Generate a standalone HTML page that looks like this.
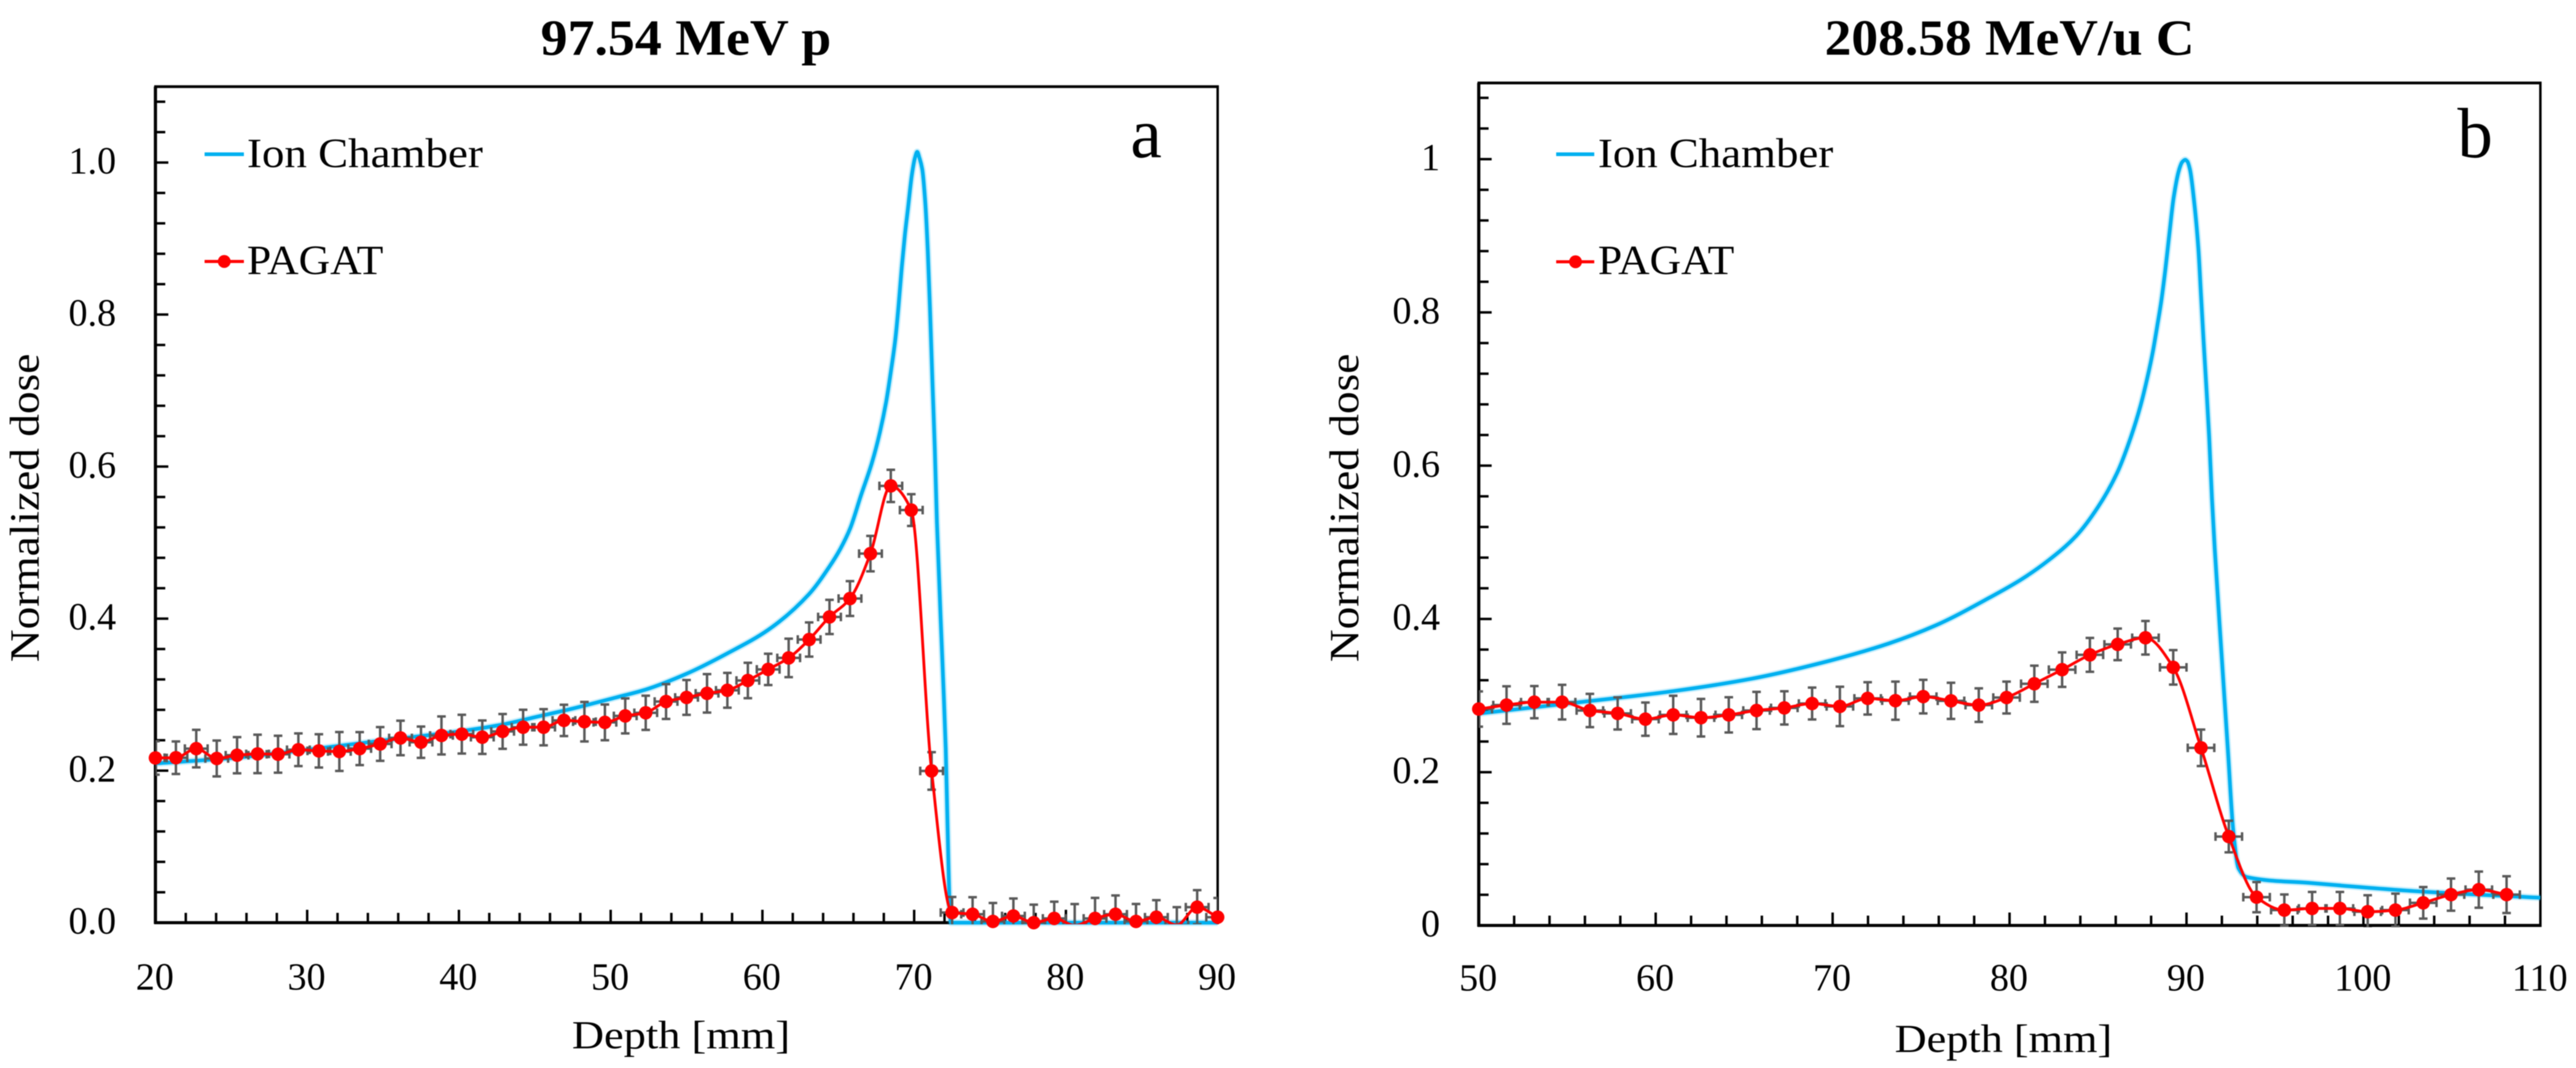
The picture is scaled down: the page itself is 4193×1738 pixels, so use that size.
<!DOCTYPE html>
<html lang="en">
<head>
<meta charset="utf-8">
<title>Normalized dose vs depth</title>
<style>
html,body{margin:0;padding:0;background:#fff;}
svg{display:block;filter:blur(0.7px);}
text{font-family:"Liberation Serif",serif;fill:#000;}
</style>
</head>
<body>
<svg id="figure" xmlns="http://www.w3.org/2000/svg" width="4193" height="1738" viewBox="0 0 4193 1738">
  <rect x="0" y="0" width="4193" height="1738" fill="#fff"/>
  <defs>
    <clipPath id="clip-a"><rect x="253" y="141" width="1729" height="1363"/></clipPath>
    <clipPath id="clip-b"><rect x="2407" y="135" width="1728" height="1374"/></clipPath>
  </defs>
  <g id="panel-a">
    <text x="880" y="89" font-size="83" font-weight="bold" textLength="473" lengthAdjust="spacingAndGlyphs">97.54 MeV p</text>
    <text x="931" y="1706" font-size="65" textLength="355" lengthAdjust="spacingAndGlyphs">Depth [mm]</text>
    <text transform="translate(63,1077.5) rotate(-90)" font-size="68" textLength="502" lengthAdjust="spacingAndGlyphs">Normalized dose</text>
    <text x="1840" y="256" font-size="115">a</text>
    <g id="plot-a"></g>
    <g>
      <line x1="333" y1="251" x2="397" y2="251" stroke="#00b0f0" stroke-width="6"/>
      <text x="402" y="272" font-size="68" textLength="384" lengthAdjust="spacingAndGlyphs">Ion Chamber</text>
      <line x1="333" y1="425.5" x2="397" y2="425.5" stroke="#f00" stroke-width="5"/>
      <circle cx="365" cy="425.5" r="10.5" fill="#f00"/>
      <text x="402" y="446" font-size="68" textLength="222" lengthAdjust="spacingAndGlyphs">PAGAT</text>
    </g>
  </g>
  <g id="panel-b">
    <text x="2970" y="89" font-size="83" font-weight="bold" textLength="602" lengthAdjust="spacingAndGlyphs">208.58 MeV/u C</text>
    <text x="3084" y="1712" font-size="65" textLength="354" lengthAdjust="spacingAndGlyphs">Depth [mm]</text>
    <text transform="translate(2211,1077.5) rotate(-90)" font-size="68" textLength="502" lengthAdjust="spacingAndGlyphs">Normalized dose</text>
    <text x="4000" y="256" font-size="115">b</text>
    <g id="plot-b"></g>
    <g>
      <line x1="2533" y1="251" x2="2595" y2="251" stroke="#00b0f0" stroke-width="6"/>
      <text x="2601" y="272" font-size="68" textLength="383" lengthAdjust="spacingAndGlyphs">Ion Chamber</text>
      <line x1="2533" y1="426" x2="2595" y2="426" stroke="#f00" stroke-width="5"/>
      <circle cx="2564.5" cy="426" r="10.5" fill="#f00"/>
      <text x="2601" y="446" font-size="68" textLength="222" lengthAdjust="spacingAndGlyphs">PAGAT</text>
    </g>
  </g>
</svg>
<script>
// ---- Panel a data ----
const xTicksA = [20,30,40,50,60,70,80,90];
const yTicksA = [0,0.2,0.4,0.6,0.8,1.0];
const yLabelsA = ["0.0","0.2","0.4","0.6","0.8","1.0"];
const ionDepthA = [20,25,30,35,40,42.84,45,47.5,50.3,52.28,54.98,57.68,60.38,63.08,64.43,65.1,65.78,66.5,67.22,67.74,68.15,68.46,68.76,68.97,69.18,69.39,69.6,69.85,70.05,70.2,70.35,70.53,70.73,70.9,71.05,71.2,71.36,71.5,71.9,72.08,72.2,72.36,72.42,90];
const ionDoseA = [0.2095,0.2165,0.2275,0.2397,0.2516,0.2605,0.2703,0.2817,0.296,0.3065,0.3273,0.3542,0.3852,0.4324,0.4688,0.4905,0.5186,0.5625,0.6053,0.645,0.6847,0.7244,0.7677,0.811,0.8616,0.905,0.941,0.984,1.006,1.014,1.006,0.9915,0.948,0.883,0.804,0.7136,0.6237,0.5267,0.3246,0.2292,0.1273,0.012,0,0];
const pagatDepthA = [20,21.35,22.69,24.04,25.38,26.73,28.08,29.42,30.77,32.12,33.46,34.81,36.15,37.5,38.85,40.19,41.54,42.88,44.23,45.58,46.92,48.27,49.62,50.96,52.31,53.65,55,56.35,57.69,59.04,60.38,61.73,63.08,64.42,65.77,67.12,68.46,69.81,71.15,72.5,73.85,75.19,76.54,77.88,79.23,80.58,81.92,83.27,84.62,85.96,87.31,88.65,90];
const pagatDoseA = [0.2167,0.217,0.229,0.216,0.2203,0.222,0.2216,0.2275,0.226,0.2252,0.229,0.2351,0.243,0.2374,0.2463,0.248,0.244,0.2516,0.2571,0.2571,0.2661,0.2644,0.2635,0.272,0.2761,0.2909,0.2963,0.3017,0.3057,0.3186,0.3332,0.3483,0.3725,0.4022,0.4264,0.4855,0.5746,0.5428,0.1996,0.0133,0.0111,0.0016,0.0088,0,0.0056,-0.0035,0.0056,0.0111,0.0016,0.0072,-0.003,0.0204,0.0072];
const pagatErrA = [0.022,0.0214,0.0247,0.0236,0.0238,0.0253,0.0243,0.0215,0.0219,0.0256,0.0217,0.0222,0.0227,0.0206,0.025,0.0255,0.022,0.0229,0.023,0.0238,0.0206,0.026,0.0235,0.023,0.0225,0.0229,0.0229,0.0253,0.0229,0.0233,0.0206,0.0253,0.0225,0.0225,0.0229,0.0233,0.0212,0.0209,0.0247,0.0205,0.0224,0.0243,0.023,0.0237,0.022,0.028,0.027,0.0247,0.023,0.0224,0.0234,0.0224,0.0253];
const xErrA = [0.75];

// ---- Panel b data ----
const xTicksB = [50,60,70,80,90,100,110];
const yTicksB = [0,0.2,0.4,0.6,0.8,1];
const yLabelsB = ["0","0.2","0.4","0.6","0.8","1"];
const ionDepthB = [50,55.47,61,65.43,69.86,73.18,75.8,78.9,80.66,82.2,83.77,85,86.09,86.87,87.41,87.8,88.1,88.34,88.57,88.8,89.04,89.27,89.58,89.75,89.93,90.05,90.2,90.43,90.67,90.82,90.97,91.13,91.28,91.44,91.6,91.97,92.34,92.65,92.94,93.42,97.05,103.1,110];
const ionDoseB = [0.2766,0.2907,0.3058,0.322,0.3456,0.368,0.3913,0.4282,0.4515,0.4765,0.5085,0.5461,0.5911,0.6383,0.679,0.716,0.749,0.7814,0.8141,0.855,0.9041,0.9492,0.986,0.996,0.9992,0.997,0.986,0.945,0.8837,0.8223,0.761,0.6995,0.638,0.5566,0.49,0.3577,0.2288,0.1219,0.0746,0.063,0.0553,0.0445,0.0361];
const pagatDepthB = [50,51.57,53.14,54.71,56.28,57.85,59.42,60.99,62.56,64.13,65.7,67.27,68.84,70.41,71.98,73.55,75.12,76.69,78.26,79.83,81.4,82.97,84.54,86.11,87.68,89.25,90.82,92.39,93.96,95.53,97.1,98.67,100.24,101.81,103.38,104.95,106.52,108.09];
const pagatDoseB = [0.2824,0.2876,0.2914,0.2914,0.2805,0.2767,0.2692,0.2748,0.2711,0.2748,0.2805,0.2839,0.2896,0.2858,0.2963,0.2933,0.2986,0.2931,0.2875,0.2974,0.3154,0.3338,0.3531,0.3668,0.3754,0.3368,0.2318,0.116,0.0369,0.02,0.0222,0.0222,0.0179,0.02,0.0295,0.0402,0.0467,0.0402];
const pagatErrB = [0.023,0.0245,0.021,0.0226,0.0217,0.021,0.0217,0.0249,0.0245,0.023,0.0243,0.0217,0.0208,0.0257,0.0211,0.0249,0.0219,0.0236,0.0219,0.0208,0.0236,0.0225,0.0221,0.0206,0.0219,0.0225,0.0238,0.0206,0.0197,0.0204,0.0215,0.0215,0.0215,0.0215,0.0206,0.021,0.0236,0.024];
const xErrB = [0.75];

const SVGNS = "http://www.w3.org/2000/svg";

function make(parent, tag, props) {
  const el = document.createElementNS(SVGNS, tag);
  for (const k in props) el.setAttribute(k, props[k]);
  parent.appendChild(el);
  return el;
}

function addLine(parent, x1, y1, x2, y2, color, width, name) {
  const el = make(parent, "line", {x1: x1, y1: y1, x2: x2, y2: y2, stroke: color, "stroke-width": width});
  
  
  return el;
}

// Monotone cubic through the points: smooth, with no overshoot past a data value.
function smoothPath(pts) {
  const n = pts.length;
  const h = [];
  const s = [];
  for (let i = 0; i < n - 1; i++) {
    h.push(pts[i + 1][0] - pts[i][0]);
    s.push((pts[i + 1][1] - pts[i][1]) / h[i]);
  }
  const m = new Array(n);
  m[0] = s[0];
  m[n - 1] = s[n - 2];
  for (let i = 1; i < n - 1; i++) {
    if (s[i - 1] * s[i] <= 0) {
      m[i] = 0;
    } else {
      const w1 = 2 * h[i] + h[i - 1];
      const w2 = h[i] + 2 * h[i - 1];
      m[i] = (w1 + w2) / (w1 / s[i - 1] + w2 / s[i]);
    }
  }
  let d = "M" + pts[0][0].toFixed(2) + " " + pts[0][1].toFixed(2);
  for (let i = 0; i < n - 1; i++) {
    const c1x = pts[i][0] + h[i] / 3;
    const c1y = pts[i][1] + m[i] * h[i] / 3;
    const c2x = pts[i + 1][0] - h[i] / 3;
    const c2y = pts[i + 1][1] - m[i + 1] * h[i] / 3;
    d += "C" + c1x.toFixed(2) + " " + c1y.toFixed(2) + " " + c2x.toFixed(2) + " " + c2y.toFixed(2) + " " + pts[i + 1][0].toFixed(2) + " " + pts[i + 1][1].toFixed(2);
  }
  return d;
}

function drawPanel(cfg) {
  const g = document.getElementById(cfg.id);
  const sx = (d) => cfg.left + (d - cfg.xMin) * (cfg.right - cfg.left) / (cfg.xMax - cfg.xMin);
  const sy = (v) => cfg.bottom - v * cfg.yPerUnit;
  const blue = "#00b0f0";

  // minor ticks
  for (let d = cfg.xMin; d <= cfg.xMax + 1e-6; d += cfg.xMinorStep) {
    if (cfg.xTicks.indexOf(Math.round(d)) < 0) {
      addLine(g, sx(d), cfg.bottom, sx(d), cfg.bottom - 16, "#000", 4, "x-minor-tick");
    }
  }
  for (let k = 1; k * cfg.yMinorStep <= cfg.yMax + 1e-6; k++) {
    if (k % 5 !== 0) {
      const v = k * cfg.yMinorStep;
      addLine(g, cfg.left, sy(v), cfg.left + 16, sy(v), "#000", 4, "y-minor-tick");
    }
  }

  // major ticks and labels
  cfg.xTicks.forEach(function (t) {
    addLine(g, sx(t), cfg.bottom, sx(t), cfg.bottom - 21, "#000", 4, "x-major-tick");
    const lab = make(g, "text", {x: sx(t) - 1, y: cfg.xLabelY, "font-size": 62, "text-anchor": "middle"});
    
    
    lab.textContent = String(t);
  });
  cfg.yTicks.forEach(function (t, i) {
    addLine(g, cfg.left, sy(t), cfg.left + 21, sy(t), "#000", 4, "y-major-tick");
    const lab = make(g, "text", {x: cfg.yLabelX, y: sy(t) + 18, "font-size": 62, "text-anchor": "end"});
    
    
    lab.textContent = cfg.yLabels[i];
  });

  // frame
  addLine(g, cfg.left - 2, cfg.top, cfg.right + 2, cfg.top, "#000", 4.6, "plot-frame-top");
  addLine(g, cfg.right, cfg.top, cfg.right, cfg.bottom, "#000", 4, "plot-frame-right");
  addLine(g, cfg.left, cfg.top, cfg.left, cfg.bottom + 2, "#000", 5.2, "y-axis-line");
  addLine(g, cfg.left - 2, cfg.bottom, cfg.right + 2, cfg.bottom, "#000", 5, "x-axis-line");

  // ion chamber curve
  const ionPts = cfg.ionDepth.map(function (d, i) { return [sx(d), sy(cfg.ionDose[i])]; });
  const ionD = smoothPath(ionPts);
  const halo = make(g, "path", {d: ionD, fill: "none", stroke: blue, "stroke-opacity": 0.22, "stroke-width": 11, "stroke-linejoin": "round"});
  
  
  const ion = make(g, "path", {d: ionD, fill: "none", stroke: blue, "stroke-width": 6, "stroke-linejoin": "round"});
  
  

  // error bars (clipped to the plot area)
  const errG = make(g, "g", {"clip-path": "url(#" + cfg.clip + ")"});
  
  
  const grey = "#595959";
  cfg.pagatDepth.forEach(function (d, i) {
    const x = sx(d);
    const y = sy(cfg.pagatDose[i]);
    const t = sy(cfg.pagatDose[i] + cfg.pagatErr[i]);
    const b = sy(cfg.pagatDose[i] - cfg.pagatErr[i]);
    const xl = sx(d - cfg.xErr[0]);
    const xr = sx(d + cfg.xErr[0]);
    addLine(errG, x, t, x, b, grey, 4, "y-error-bar");
    addLine(errG, x - 7, t, x + 7, t, grey, 4, "y-error-cap");
    addLine(errG, x - 7, b, x + 7, b, grey, 4, "y-error-cap");
    addLine(errG, xl, y, xr, y, grey, 4, "x-error-bar");
    addLine(errG, xl, y - 7, xl, y + 7, grey, 4, "x-error-cap");
    addLine(errG, xr, y - 7, xr, y + 7, grey, 4, "x-error-cap");
  });

  // PAGAT curve
  const pts = cfg.pagatDepth.map(function (d, i) { return [sx(d), sy(cfg.pagatDose[i])]; });
  const pag = make(g, "path", {d: smoothPath(pts), fill: "none", stroke: "#f00", "stroke-width": 4.6, "clip-path": "url(#" + cfg.clip + ")"});
  
  

  // PAGAT markers (values below the axis minimum are not drawn)
  cfg.pagatDepth.forEach(function (d, i) {
    if (cfg.pagatDose[i] >= 0) {
      const m = make(g, "circle", {cx: sx(d), cy: sy(cfg.pagatDose[i]), r: 11, fill: "#f00"});
      
      
    }
  });
}

drawPanel({
  id: "plot-a", clip: "clip-a",
  left: 253, right: 1982, top: 141, bottom: 1501.5, yPerUnit: 1237,
  xMin: 20, xMax: 90, yMax: 1.1, xMinorStep: 2, yMinorStep: 0.04,
  xLabelY: 1610.5, yLabelX: 189,
  xTicks: xTicksA, yTicks: yTicksA, yLabels: yLabelsA,
  ionDepth: ionDepthA, ionDose: ionDoseA,
  pagatDepth: pagatDepthA, pagatDose: pagatDoseA, pagatErr: pagatErrA, xErr: xErrA
});

drawPanel({
  id: "plot-b", clip: "clip-b",
  left: 2407, right: 4135, top: 135, bottom: 1506, yPerUnit: 1247,
  xMin: 50, xMax: 110, yMax: 1.1, xMinorStep: 2, yMinorStep: 0.04,
  xLabelY: 1612, yLabelX: 2344,
  xTicks: xTicksB, yTicks: yTicksB, yLabels: yLabelsB,
  ionDepth: ionDepthB, ionDose: ionDoseB,
  pagatDepth: pagatDepthB, pagatDose: pagatDoseB, pagatErr: pagatErrB, xErr: xErrB
});
</script>
</body>
</html>
